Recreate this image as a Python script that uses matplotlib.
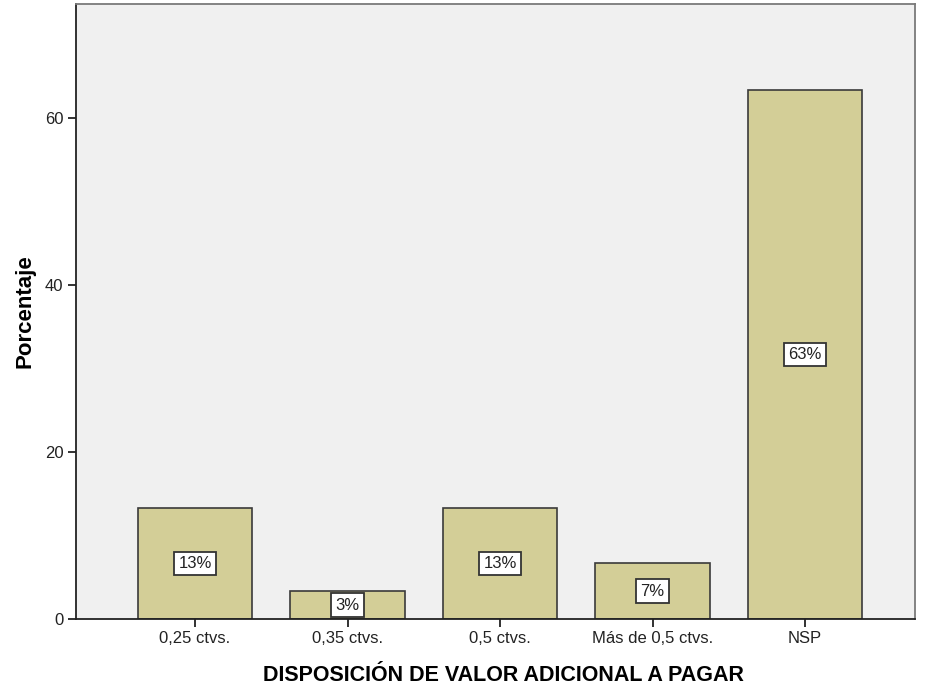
import matplotlib
matplotlib.use('Agg')
import matplotlib.pyplot as plt

plt.rcParams['font.family'] = ['Liberation Sans', 'DejaVu Sans']

# Respuestas por categoria (n = 30)
categorias = ['0,25 ctvs.', '0,35 ctvs.', '0,5 ctvs.', 'Más de 0,5 ctvs.', 'NSP']
porcentajes = [13.33, 3.33, 13.33, 6.67, 63.33]
etiquetas = ['13%', '3%', '13%', '7%', '63%']

fig = plt.figure(figsize=(9.27, 6.89), dpi=100)
ax = fig.add_axes([0.082, 0.1016, 0.905, 0.8925])
ax.set_facecolor('#F0F0F0')

x = range(len(categorias))
ax.bar(x, porcentajes, width=0.75, color='#D3CE97', edgecolor='#3a3a3a', linewidth=1.2, zorder=2)

# etiqueta de porcentaje en la mitad de cada barra
for xi, v, t in zip(x, porcentajes, etiquetas):
    ax.text(xi, v / 2, t, ha='center', va='center', fontsize=12, color='#222222', zorder=3,
            bbox=dict(boxstyle='square,pad=0.25', facecolor='white', edgecolor='#333333', linewidth=1.3))

ax.set_xlim(-0.78, 4.72)
ax.set_ylim(0, 73.6)
ax.set_yticks([0, 20, 40, 60])
ax.set_xticks(list(x))
ax.set_xticklabels(categorias)
ax.tick_params(axis='both', labelsize=12, length=6, width=1.3, pad=3,
               color='#222222', labelcolor='#222222')

for s in ['left', 'bottom']:
    ax.spines[s].set_color('#222222')
    ax.spines[s].set_linewidth(1.3)
for s in ['top', 'right']:
    ax.spines[s].set_color('#7a7a7a')
    ax.spines[s].set_linewidth(1.3)

ax.set_ylabel('Porcentaje', fontsize=16, fontweight='bold', labelpad=7)
ax.set_xlabel('DISPOSICIÓN DE VALOR ADICIONAL A PAGAR', fontsize=15.5, fontweight='bold', labelpad=13)
ax.xaxis.label.set_x(0.51)

fig.savefig('out.png', dpi=100, facecolor='white')
